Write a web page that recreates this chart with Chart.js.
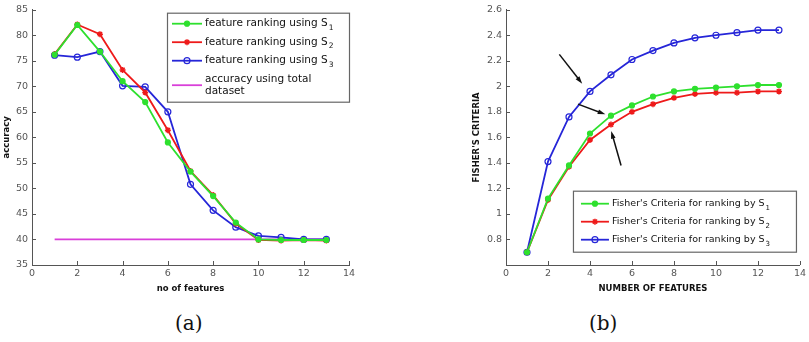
<!DOCTYPE html>
<html>
<head>
<meta charset="utf-8">
<script src="https://cdn.jsdelivr.net/npm/chart.js@4.4.1/dist/chart.umd.min.js"></script>
<style>
  body { margin: 0; background: #fff; width: 809px; height: 342px; position: relative; overflow: hidden; }
  .panel { position: absolute; top: 0; height: 300px; }
  .cap { position: absolute; top: 313px; line-height: 1; font-family: "DejaVu Serif", "Liberation Serif", serif; font-size: 20px; color: #111; }
</style>
</head>
<body>
<div class="panel" style="left:0;width:360px"><canvas id="accChart"></canvas></div>
<div class="panel" style="left:470px;width:339px"><canvas id="fisherChart"></canvas></div>
<div class="cap" style="left:175px">(a)</div>
<div class="cap" style="left:589px">(b)</div>
<script>
// number of features on the x axis
const features = [1, 2, 3, 4, 5, 6, 7, 8, 9, 10, 11, 12, 13];

// (a) accuracy
const accS1 = [76.2, 82.0, 76.8, 71.0, 66.9, 59.0, 53.3, 48.5, 43.3, 40.0, 39.9, 39.9, 39.9];
const accS2 = [76.3, 82.1, 80.2, 73.2, 68.8, 61.4, 53.4, 48.7, 43.1, 39.9, 39.8, 39.9, 39.8];
const accS3 = [76.1, 75.7, 76.8, 70.1, 69.9, 65.0, 50.8, 45.7, 42.4, 40.7, 40.4, 40.0, 40.0];
const accTotal = 40;

// (b) Fisher's criteria
const fisherS1 = [0.70, 1.12, 1.38, 1.63, 1.77, 1.85, 1.92, 1.96, 1.98, 1.99, 2.00, 2.01, 2.01];
const fisherS2 = [0.70, 1.11, 1.37, 1.58, 1.70, 1.80, 1.86, 1.91, 1.94, 1.95, 1.95, 1.96, 1.96];
const fisherS3 = [0.70, 1.41, 1.76, 1.96, 2.09, 2.21, 2.28, 2.34, 2.38, 2.40, 2.42, 2.44, 2.44];

// arrows in (b), data units: tail -> head
const arrowFrom = [[2.54, 2.25], [3.43, 1.86], [5.48, 1.38]];
const arrowTo = [[3.63, 2.02], [4.73, 1.78], [5.01, 1.65]];

const GREEN = '#2ee02e', RED = '#ee1a1a', BLUE = '#2626d8', MAGENTA = '#d93fd9';
const tickFont = { family: 'DejaVu Sans', size: 9.5 };
const titleFont = { family: 'DejaVu Sans', size: 8.5, weight: 'bold' };

const pts = (ys) => features.map((x, i) => ({ x, y: ys[i] }));

// MATLAB style ticks pointing into the plot
const inwardTicks = {
  id: 'inwardTicks',
  afterDatasetsDraw(chart) {
    const { ctx, chartArea: a, scales: { x, y } } = chart;
    ctx.save();
    ctx.strokeStyle = '#555';
    ctx.lineWidth = 1;
    ctx.beginPath();
    x.ticks.forEach(t => {
      const px = Math.round(x.getPixelForValue(t.value)) + 0.5;
      ctx.moveTo(px, a.bottom); ctx.lineTo(px, a.bottom - 4);
    });
    y.ticks.forEach(t => {
      const py = Math.round(y.getPixelForValue(t.value)) + 0.5;
      ctx.moveTo(a.left, py); ctx.lineTo(a.left + 4, py);
    });
    ctx.stroke();
    ctx.restore();
  }
};

// legend box drawn inside the plot area
const boxLegend = {
  id: 'boxLegend',
  afterDraw(chart, args, o) {
    if (!o.items) return;
    const { ctx, chartArea: a } = chart;
    const bx = a.right - o.dx - o.width, by = a.top + o.dy;
    ctx.save();
    ctx.fillStyle = '#fff';
    ctx.fillRect(bx, by, o.width, o.height);
    ctx.strokeStyle = '#666';
    ctx.lineWidth = 1.2;
    ctx.strokeRect(bx + 0.5, by + 0.5, o.width, o.height);
    let yy = by + o.firstRow;
    o.items.forEach(it => {
      const ds = chart.data.datasets[it.dataset];
      const x0 = bx + o.padX, x1 = x0 + o.sampleW;
      const ly = yy + (it.lines.length - 1) * o.lineH / 2;
      ctx.strokeStyle = ds.borderColor;
      ctx.lineWidth = ds.borderWidth;
      ctx.beginPath(); ctx.moveTo(x0, ly); ctx.lineTo(x1, ly); ctx.stroke();
      if (ds.pointRadius > 0) {
        ctx.fillStyle = ds.pointBackgroundColor;
        ctx.strokeStyle = ds.borderColor;
        ctx.lineWidth = ds.pointBorderWidth;
        Chart.helpers.drawPoint(ctx, { pointStyle: ds.pointStyle, radius: ds.pointRadius, borderWidth: ds.pointBorderWidth, rotation: 0 }, (x0 + x1) / 2, ly);
      }
      ctx.fillStyle = '#111';
      ctx.textBaseline = 'middle';
      const tx = x1 + 3;
      it.lines.forEach((ln, k) => {
        ctx.font = o.font;
        ctx.fillText(ln, tx, yy + k * o.lineH);
      });
      if (it.sub) {
        ctx.font = o.font;
        const w = ctx.measureText(it.lines[0]).width;
        ctx.font = o.subFont;
        ctx.fillText(it.sub, tx + w + 1, yy + 4);
      }
      yy += o.rowH + (it.lines.length - 1) * o.lineH;
    });
    ctx.restore();
  }
};

// black annotation arrows
const arrows = {
  id: 'arrows',
  afterDatasetsDraw(chart, args, o) {
    if (!o.from) return;
    const { ctx, scales: { x, y } } = chart;
    ctx.save();
    ctx.strokeStyle = '#111';
    ctx.fillStyle = '#111';
    ctx.lineWidth = 1.5;
    o.from.forEach((f, i) => {
      const t = o.to[i];
      const x0 = x.getPixelForValue(f[0]), y0 = y.getPixelForValue(f[1]);
      const x1 = x.getPixelForValue(t[0]), y1 = y.getPixelForValue(t[1]);
      const ang = Math.atan2(y1 - y0, x1 - x0);
      ctx.beginPath(); ctx.moveTo(x0, y0); ctx.lineTo(x1 - 4 * Math.cos(ang), y1 - 4 * Math.sin(ang)); ctx.stroke();
      ctx.beginPath();
      ctx.moveTo(x1, y1);
      ctx.lineTo(x1 - 8 * Math.cos(ang - 0.3), y1 - 8 * Math.sin(ang - 0.3));
      ctx.lineTo(x1 - 8 * Math.cos(ang + 0.3), y1 - 8 * Math.sin(ang + 0.3));
      ctx.closePath(); ctx.fill();
    });
    ctx.restore();
  }
};

const series = (label, ys, color, style) => ({
  label,
  data: pts(ys),
  borderColor: color,
  borderWidth: 1.8,
  pointStyle: style === 'circle-open' ? 'circle' : style,
  pointRadius: style === 'star' ? 3 : (style === 'circle-open' ? 3 : 2.5),
  pointBorderWidth: style === 'star' ? 1.5 : 1.2,
  pointBackgroundColor: style === 'circle-open' ? 'rgba(255,255,255,0)' : color,
  tension: 0
});

function axes(xTitle, yTitle, yMin, yMax, yStep, yWidth, yFmt) {
  return {
    x: {
      type: 'linear', min: 0, max: 14,
      ticks: { stepSize: 2, font: tickFont, color: '#555', padding: 3, maxRotation: 0 },
      grid: { display: true, drawOnChartArea: false, drawTicks: false },
      border: { display: true, color: '#555', width: 1 },
      title: { display: true, text: xTitle, font: titleFont, color: '#111', padding: { top: 2, bottom: 6 } },
      afterFit: s => { s.height = 35; }
    },
    y: {
      min: yMin, max: yMax,
      ticks: { stepSize: yStep, font: tickFont, color: '#555', padding: 4, callback: yFmt },
      grid: { display: true, drawOnChartArea: false, drawTicks: false },
      border: { display: true, color: '#555', width: 1 },
      title: { display: true, text: yTitle, font: titleFont, color: '#111', padding: { top: 2, bottom: 0 } },
      afterFit: s => { s.width = yWidth; }
    }
  };
}

new Chart(document.getElementById('accChart'), {
  type: 'line',
  data: {
    datasets: [
      series('feature ranking using S1', accS1, GREEN, 'circle'),
      series('feature ranking using S2', accS2, RED, 'star'),
      series('feature ranking using S3', accS3, BLUE, 'circle-open'),
      {
        label: 'accuracy using total dataset',
        data: [{ x: features[0], y: accTotal }, { x: features[features.length - 1], y: accTotal }],
        borderColor: MAGENTA, borderWidth: 1.8, pointRadius: 0
      }
    ]
  },
  options: {
    responsive: true, maintainAspectRatio: false, animation: false,
    layout: { padding: { top: 6, right: 11, left: 0, bottom: 0 } },
    scales: axes('no of features', 'accuracy', 35, 85, 5, 32, v => v),
    plugins: {
      legend: { display: false },
      tooltip: { enabled: false },
      boxLegend: {
        dx: 0, dy: 3, width: 182, height: 89, padX: 5, sampleW: 30,
        firstRow: 11, rowH: 18.5, lineH: 12,
        font: '10.5px "DejaVu Sans"', subFont: '7.5px "DejaVu Sans"',
        items: [
          { dataset: 0, lines: ['feature ranking using S'], sub: '1' },
          { dataset: 1, lines: ['feature ranking using S'], sub: '2' },
          { dataset: 2, lines: ['feature ranking using S'], sub: '3' },
          { dataset: 3, lines: ['accuracy using total', 'dataset'] }
        ]
      }
    }
  },
  plugins: [inwardTicks, boxLegend]
});

new Chart(document.getElementById('fisherChart'), {
  type: 'line',
  data: {
    datasets: [
      series("Fisher's Criteria for ranking by S1", fisherS1, GREEN, 'circle'),
      series("Fisher's Criteria for ranking by S2", fisherS2, RED, 'star'),
      series("Fisher's Criteria for ranking by S3", fisherS3, BLUE, 'circle-open')
    ]
  },
  options: {
    responsive: true, maintainAspectRatio: false, animation: false,
    layout: { padding: { top: 6, right: 5, left: 0, bottom: 0 } },
    scales: axes('NUMBER OF FEATURES', "FISHER'S CRITERIA", 0.6, 2.6, 0.2, 36,
      v => Math.abs(v - 0.6) < 1e-6 ? '' : String(+v.toFixed(1))),
    plugins: {
      legend: { display: false },
      tooltip: { enabled: false },
      boxLegend: {
        dx: 4, dy: 181, width: 223, height: 61, padX: 8, sampleW: 28,
        firstRow: 13, rowH: 18, lineH: 12,
        font: '9.5px "DejaVu Sans"', subFont: '7px "DejaVu Sans"',
        items: [
          { dataset: 0, lines: ["Fisher's Criteria for ranking by S"], sub: '1' },
          { dataset: 1, lines: ["Fisher's Criteria for ranking by S"], sub: '2' },
          { dataset: 2, lines: ["Fisher's Criteria for ranking by S"], sub: '3' }
        ]
      },
      arrows: { from: arrowFrom, to: arrowTo }
    }
  },
  plugins: [inwardTicks, boxLegend, arrows]
});
</script>
</body>
</html>
